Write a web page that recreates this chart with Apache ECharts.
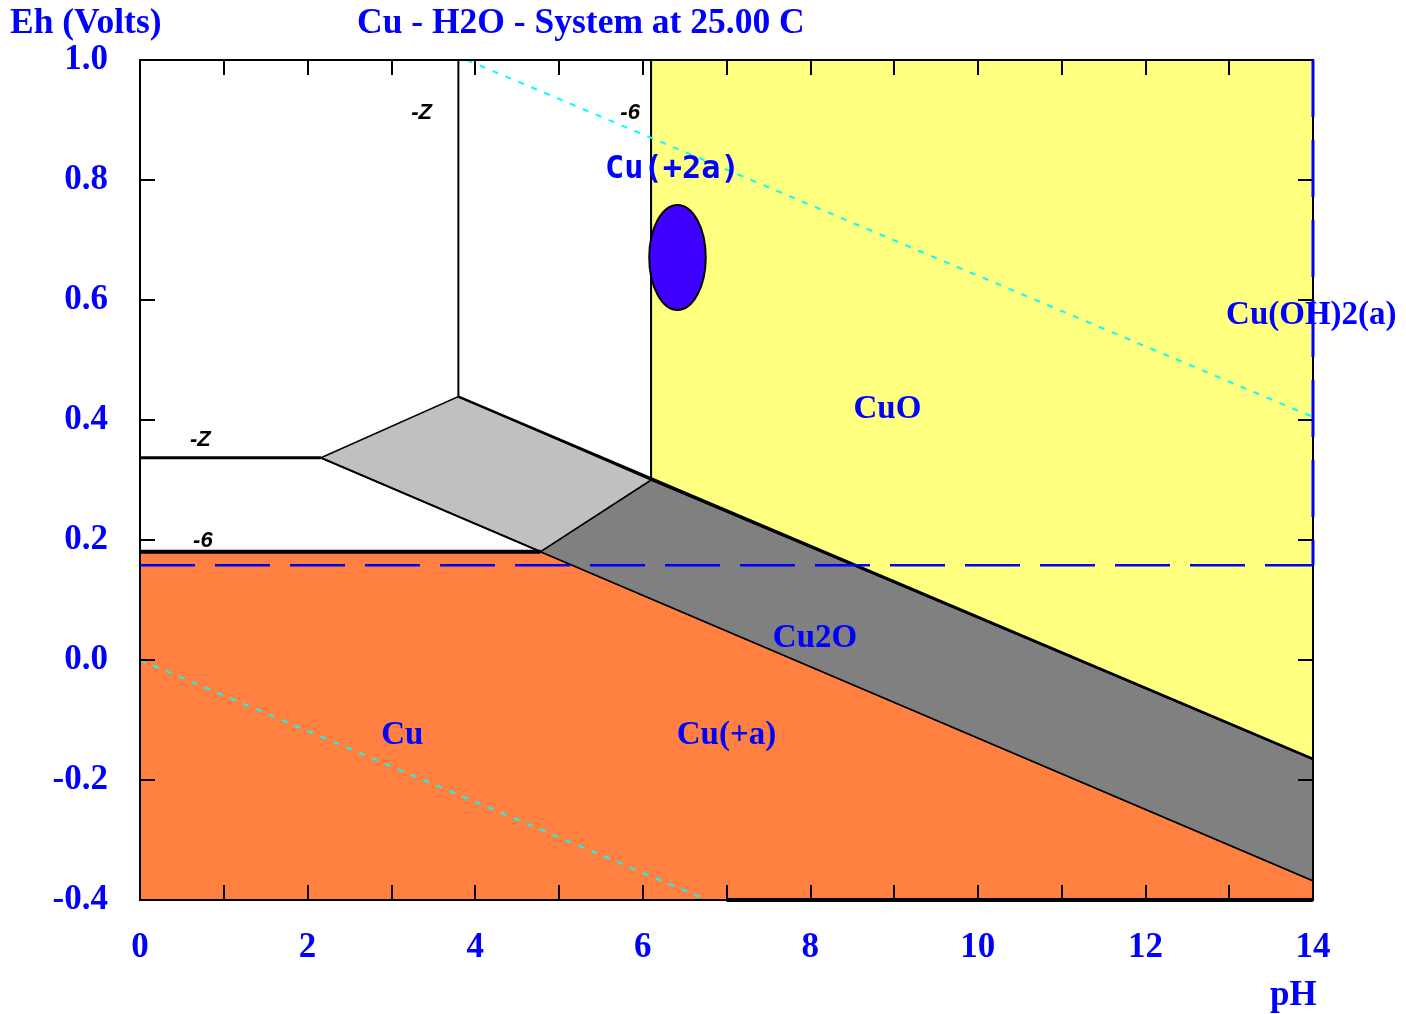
<!DOCTYPE html>
<html>
<head>
<meta charset="utf-8">
<title>Cu - H2O Eh-pH diagram</title>
<script src="https://cdn.jsdelivr.net/npm/echarts@6/dist/echarts.min.js"></script>
<style>
  html, body { margin: 0; padding: 0; background: #ffffff; }
  #chart { width: 1406px; height: 1014px; }
</style>
</head>
<body>
<div id="chart"></div>
<script>
// Axis tick labels
const phLabels = ['0', '2', '4', '6', '8', '10', '12', '14'];
const ehLabels = ['-0.4', '-0.2', '0.0', '0.2', '0.4', '0.6', '0.8', '1.0'];

// Stability fields, vertices as [pH, Eh]
const cuField = [[0, -0.4], [0, 0.1805], [4.78, 0.1805], [14, -0.368], [14, -0.4]];
const cu2oField = [[4.78, 0.1805], [6.10, 0.300], [14, -0.165], [14, -0.368]];
const cu2oLowField = [[2.16, 0.337], [3.80, 0.439], [6.10, 0.300], [4.78, 0.1805]];
const cuoField = [[6.10, 1.0], [14, 1.0], [14, -0.165], [6.10, 0.300]];

// Solid phase boundaries
const cu2Line7 = [[0, 0.337], [2.16, 0.337]];
const cu2Line6 = [[0, 0.1805], [4.78, 0.1805]];
const cuoLine7 = [[3.80, 0.439], [3.80, 1.0]];
const cuoLine6 = [[6.10, 0.300], [6.10, 1.0]];
const upperLine = [[3.80, 0.439], [14, -0.165]];
const lowerLine = [[2.16, 0.337], [4.78, 0.1805]];
const baseLine = [[7, -0.4], [14, -0.4]];

// Water stability limits
const oxygenLine = [[3.90, 1.0], [14, 0.405]];
const hydrogenLine = [[0, 0.0], [6.77, -0.4]];

// Dashed reference lines
const refEhLine = [[0, 0.158], [14, 0.158]];
const refEdgeLine = [[14, 1.0], [14, 0.158]];

// Measured point: centre [pH, Eh] and half spans [pH, Eh]
const spotCenter = [6.415, 0.671];
const spotSpan = [0.337, 0.0875];

// Species labels
const speciesNames = ['Cu(+2a)', 'Cu(OH)2(a)', 'CuO', 'Cu2O', 'Cu', 'Cu(+a)'];
const speciesPH = [6.355, 13.98, 8.92, 8.056, 3.13, 7.0];
const speciesEh = [0.818, 0.575, 0.417, 0.036, -0.126, -0.125];

// Concentration labels on boundaries
const contourNames = ['-Z', '-6', '-Z', '-6'];
const contourPH = [3.36, 5.85, 0.72, 0.75];
const contourEh = [0.912, 0.912, 0.367, 0.198];

const BLUE = '#0000ff';
const SERIF = '"Liberation Serif", "Times New Roman", serif';

const fields = [cuField, cu2oField, cu2oLowField, cuoField];
const fieldFills = ['#ff8040', '#808080', '#c0c0c0', '#ffff80'];

function segment(points, color, width, dash, z) {
  return {
    type: 'line',
    data: points,
    symbol: 'none',
    silent: true,
    clip: false,
    z: z,
    lineStyle: { color: color, width: width, type: dash || 'solid', cap: 'butt' }
  };
}

function frameAxis(kind, position, extra) {
  const base = {
    type: 'value',
    position: position,
    z: 5,
    axisLine: { onZero: false, lineStyle: { color: '#000', width: 2 } },
    axisTick: { show: true, inside: true, length: 15, lineStyle: { color: '#000', width: 2 } },
    splitLine: { show: false },
    axisLabel: { show: false }
  };
  if (kind === 'x') { base.min = 0; base.max = 14; base.interval = 1; }
  else { base.min = -0.4; base.max = 1.0; base.interval = 0.2; }
  return Object.assign(base, extra || {});
}

const chart = echarts.init(document.getElementById('chart'), null, { renderer: 'canvas' });

const labelFont = { color: BLUE, fontFamily: SERIF, fontWeight: 'bold', fontSize: 35 };
const titleFont = { color: BLUE, fontFamily: SERIF, fontWeight: 'bold', fontSize: 35.5 };

const option = {
  animation: false,
  backgroundColor: '#ffffff',
  title: [
    { text: 'Eh (Volts)', left: 10, top: 6, padding: 0, textStyle: titleFont },
    { text: 'Cu - H2O - System at 25.00 C', left: 357, top: 6, padding: 0, textStyle: titleFont },
    { text: 'pH', left: 1270, top: 978, padding: 0, textStyle: labelFont }
  ],
  grid: { left: 140, right: 93, top: 60, bottom: 114, containLabel: false },
  xAxis: [
    frameAxis('x', 'bottom', {
      axisLabel: Object.assign({
        show: true, margin: 30,
        formatter: function (v) { const s = String(v); return phLabels.indexOf(s) >= 0 ? s : ''; }
      }, labelFont)
    }),
    frameAxis('x', 'top')
  ],
  yAxis: [
    frameAxis('y', 'left', {
      axisLabel: Object.assign({
        show: true, margin: 32,
        formatter: function (v) {
          for (let i = 0; i < ehLabels.length; i++) {
            if (Math.abs(parseFloat(ehLabels[i]) - v) < 1e-6) return ehLabels[i];
          }
          return '';
        }
      }, labelFont)
    }),
    frameAxis('y', 'right')
  ],
  series: [
    {
      type: 'custom',
      coordinateSystem: 'cartesian2d',
      silent: true,
      z: 1,
      data: fields.map(function (f, i) { return [i]; }),
      renderItem: function (params, api) {
        const pts = fields[params.dataIndex].map(function (p) { return api.coord(p); });
        return {
          type: 'polygon',
          shape: { points: pts },
          style: { fill: fieldFills[params.dataIndex], stroke: '#000', lineWidth: 1.5 }
        };
      }
    },
    segment(cu2Line7, '#000', 3, 'solid', 3),
    segment(cu2Line6, '#000', 4, 'solid', 3),
    segment(cuoLine7, '#000', 2, 'solid', 3),
    segment(cuoLine6, '#000', 2, 'solid', 3),
    segment(upperLine, '#000', 2.5, 'solid', 3),
    segment(lowerLine, '#000', 2, 'solid', 3),
    segment(baseLine, '#000', 4, 'solid', 6),
    segment(oxygenLine, '#00ffff', 2, [6, 8], 4),
    segment(hydrogenLine, '#00ffff', 2, [6, 8], 4),
    segment(refEhLine, BLUE, 2.5, [55, 20], 6),
    segment(refEdgeLine, BLUE, 3, [57, 23], 6),
    {
      type: 'custom',
      coordinateSystem: 'cartesian2d',
      silent: true,
      z: 6,
      data: [spotCenter],
      renderItem: function (params, api) {
        const c = api.coord([api.value(0), api.value(1)]);
        const s = api.size([spotSpan[0], spotSpan[1]]);
        return {
          type: 'ellipse',
          shape: { cx: c[0], cy: c[1], rx: s[0], ry: s[1] },
          style: { fill: '#4000ff', stroke: '#000', lineWidth: 2 }
        };
      }
    },
    {
      type: 'custom',
      coordinateSystem: 'cartesian2d',
      silent: true,
      clip: false,
      z: 7,
      data: speciesNames.map(function (n, i) { return [speciesPH[i], speciesEh[i]]; }),
      renderItem: function (params, api) {
        const c = api.coord([api.value(0), api.value(1)]);
        const name = speciesNames[params.dataIndex];
        const mono = name === 'Cu(+2a)';
        return {
          type: 'text',
          x: c[0], y: c[1],
          style: {
            text: name,
            fill: BLUE,
            font: mono ? 'bold 32px "DejaVu Sans Mono", monospace' : 'bold 33px ' + SERIF,
            align: 'center',
            verticalAlign: 'middle'
          }
        };
      }
    },
    {
      type: 'custom',
      coordinateSystem: 'cartesian2d',
      silent: true,
      clip: false,
      z: 7,
      data: contourNames.map(function (n, i) { return [contourPH[i], contourEh[i]]; }),
      renderItem: function (params, api) {
        const c = api.coord([api.value(0), api.value(1)]);
        return {
          type: 'text',
          x: c[0], y: c[1],
          style: {
            text: contourNames[params.dataIndex],
            fill: '#000',
            font: 'italic bold 22px "Liberation Sans", sans-serif',
            align: 'center',
            verticalAlign: 'middle'
          }
        };
      }
    }
  ]
};

chart.setOption(option);
</script>
</body>
</html>
